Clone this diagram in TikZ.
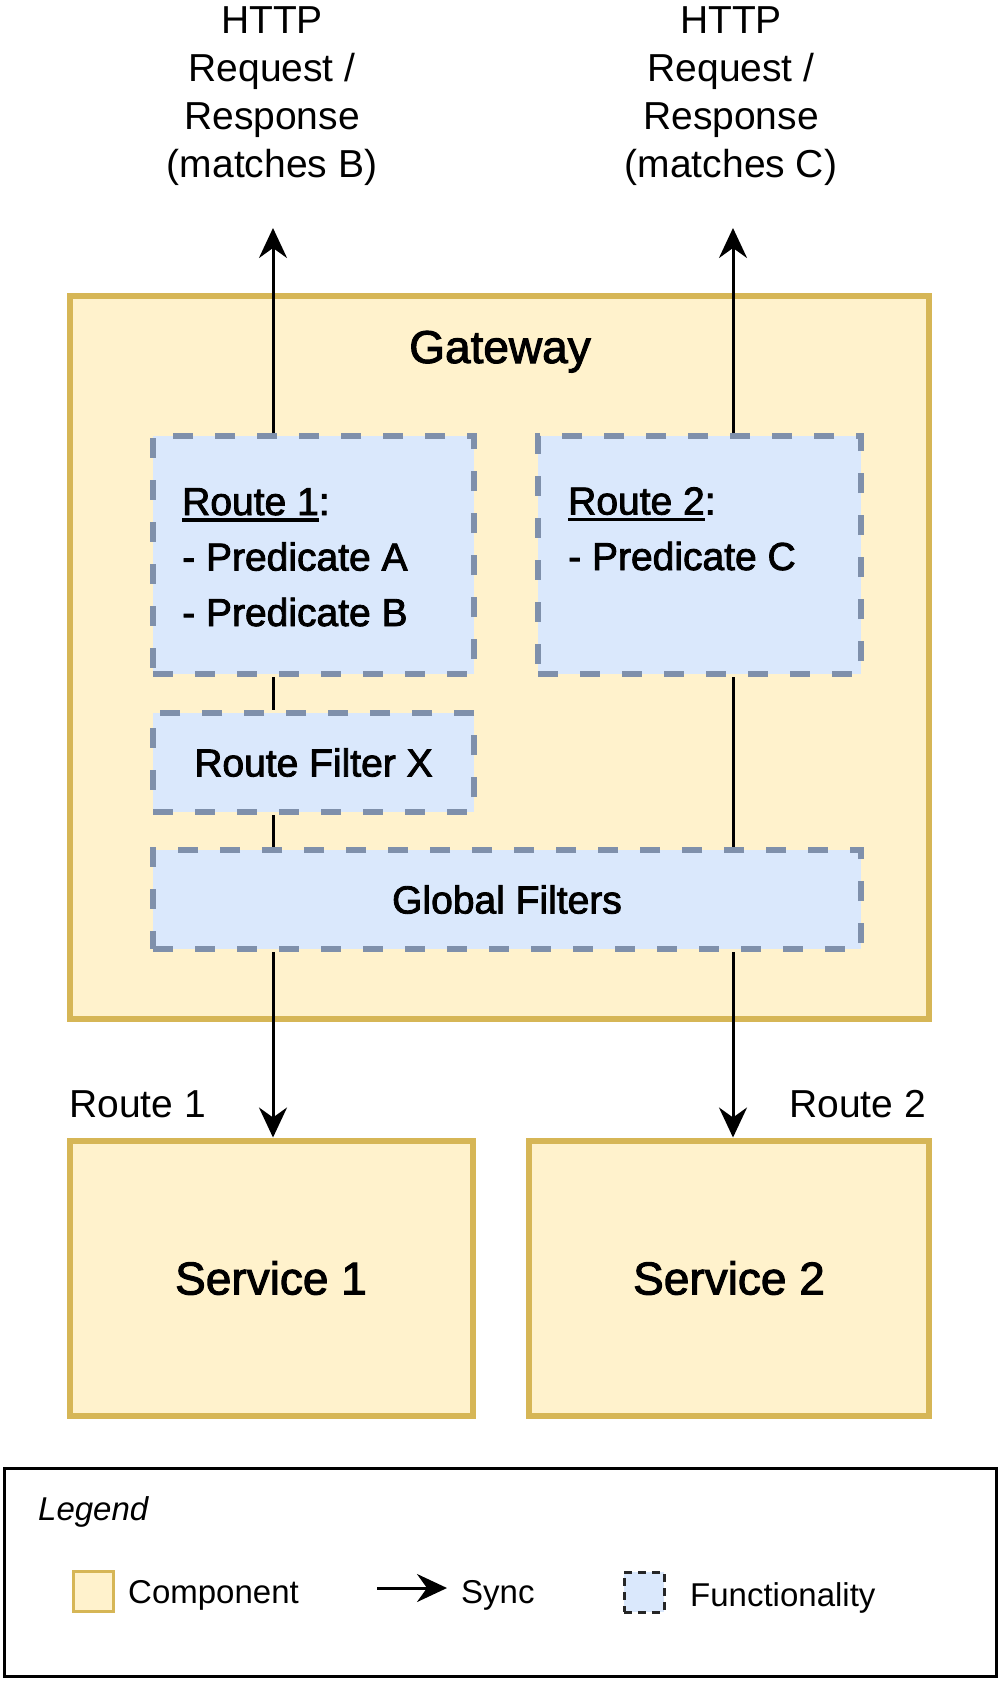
\documentclass[tikz,border=0pt]{standalone}
\usepackage{fontspec}
\setmainfont{Liberation Sans}
\newfontfamily\medfont{Liberation Sans}[FakeBold=2.2]
\usetikzlibrary{arrows.meta}
\definecolor{compfill}{HTML}{FFF2CC}
\definecolor{compline}{HTML}{D6B656}
\definecolor{funcfill}{HTML}{DAE8FC}
\definecolor{funcline}{HTML}{7F90AB}
\newcommand{\rtline}[1]{\vtop{\hbox{#1}\kern3pt\hrule height 3.5pt}}
\tikzset{
	comp/.style={draw=compline, fill=compfill, line width=6pt, inner sep=0pt},
	func/.style={draw=funcline, fill=funcfill, line width=6pt, dash pattern=on 20pt off 22pt, inner sep=0pt},
	txt/.style={font=\fontsize{39}{48}\selectfont, inner sep=0pt},
	medtxt/.style={font=\medfont\fontsize{39}{55.5}\selectfont, inner sep=0pt},
	bigtxt/.style={font=\medfont\fontsize{46}{55}\selectfont, inner sep=0pt},
	legtxt/.style={font=\fontsize{33}{40}\selectfont, inner sep=0pt, anchor=base west},
	sync/.style={line width=3pt, ->},
	link/.style={line width=3pt},
}
\begin{document}
\begin{tikzpicture}[x=1pt, y=-1pt, >={Stealth[length=30pt,width=28pt,inset=10pt]}]
	\useasboundingbox (0,0) rectangle (1000,1682);
	\path
	(273,228) coordinate (T1)
	(733,228) coordinate (T2)
	(377,1588) coordinate (L1)
	(447,1588) coordinate (L2)
	;
	% gateway and services
	\node[comp, minimum width=859pt, minimum height=723pt] (gw) at (499.5,657.5) {};
	\node[bigtxt, anchor=base] (gwtext) at (500,363) {Gateway};
	\node[comp, minimum width=403pt, minimum height=275pt, bigtxt] (s1) at (271,1278) {Service 1};
	\node[comp, minimum width=400pt, minimum height=275pt, bigtxt] (s2) at (729,1278) {Service 2};
	% functionality
	\node[func, minimum width=321pt, minimum height=238pt] (r1) at (313.5,555) {};
	\node[func, minimum width=323pt, minimum height=238pt] (r2) at (699.5,555) {};
	\node[func, minimum width=321pt, minimum height=99pt, medtxt] (rfx) at (313.5,762.5) {Route Filter X};
	\node[func, minimum width=708pt, minimum height=99pt, medtxt] (gf) at (507,899.5) {Global Filters};
	\node[medtxt, anchor=base west, align=left] (r1text) at (182,626) {\rtline{Route 1}:\\- Predicate A\\- Predicate B};
	\node[medtxt, anchor=base west, align=left] (r2text) at (568,570) {\rtline{Route 2}:\\- Predicate C};
	% labels
	\node[txt, anchor=base, align=center] (http1) at (272,177) {HTTP\\Request /\\Response\\(matches B)};
	\node[txt, anchor=base, align=center] (http2) at (731,177) {HTTP\\Request /\\Response\\(matches C)};
	\node[txt, anchor=base west] (lab1) at (69,1117) {Route 1};
	\node[txt, anchor=base east] (lab2) at (926,1117) {Route 2};
	% connectors
	\draw[sync] (r1.north -| T1) -- (T1);
	\draw[sync] (r2.north -| T2) -- (T2);
	\draw[link] (r1.south -| T1) -- (rfx.north -| T1);
	\draw[link] (rfx.south -| T1) -- (gf.north -| T1);
	\draw[link] (r2.south -| T2) -- (gf.north -| T2);
	\foreach \s/\t in {s1/T1,s2/T2}
	\draw[sync] (gf.south -| \t) -- (\s.north -| \t);
	% legend
	\node[draw=black, line width=3pt, minimum width=992pt, minimum height=208pt] (legend) at (500.5,1572.5) {};
	\node[legtxt, font=\itshape\fontsize{33}{40}\selectfont] (legtitle) at (38,1520) {Legend};
	\node[comp, line width=3pt, minimum width=40pt, minimum height=40pt] (legcomp) at (93.5,1591.5) {};
	\node[legtxt] (legcomptext) at (128,1603) {Component};
	\draw[sync] (L1) -- (L2);
	\node[legtxt] (legsync) at (461,1603) {Sync};
	\node[func, draw=black!85, line width=3pt, dash pattern=on 8pt off 6pt, minimum width=40pt, minimum height=40pt] (legfunc) at (644,1592) {};
	\node[legtxt] (legfunctext) at (690,1606) {Functionality};
\end{tikzpicture}
\end{document}
